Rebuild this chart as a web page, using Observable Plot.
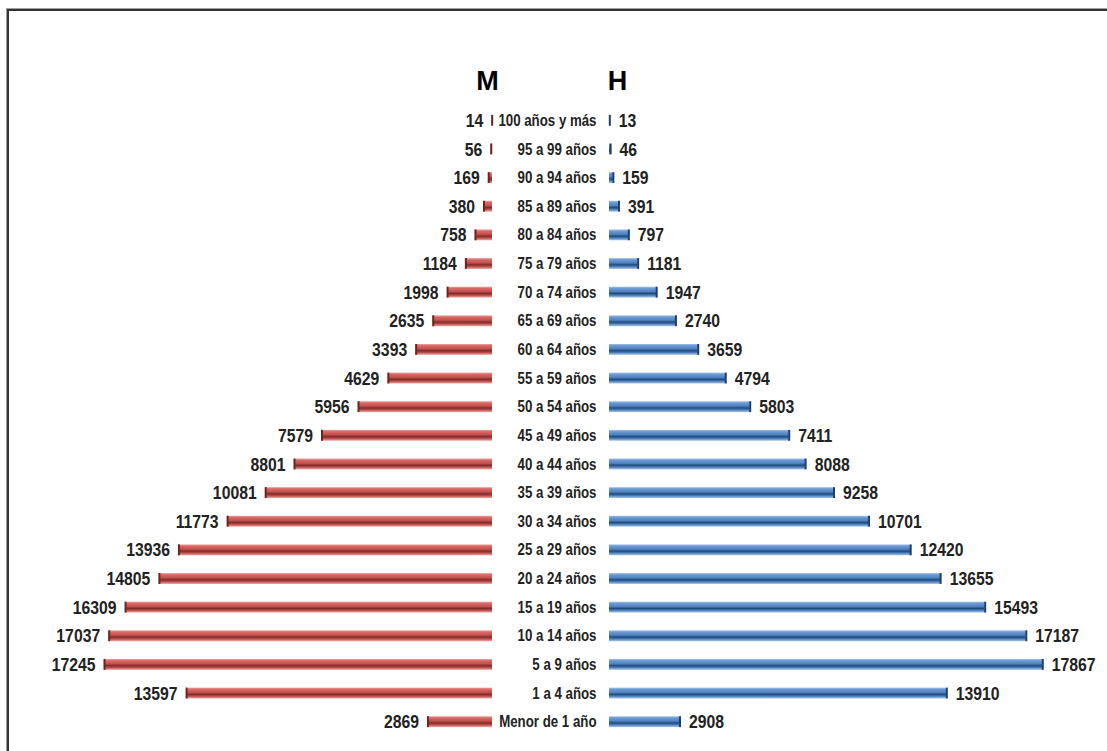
<!DOCTYPE html>
<html>
<head>
<meta charset="utf-8">
<script src="https://cdn.jsdelivr.net/npm/d3@7"></script>
<script src="https://cdn.jsdelivr.net/npm/@observablehq/plot@0.6"></script>
<style>
  html, body { margin: 0; padding: 0; background: #fff; }
  #wrap { position: relative; width: 1107px; height: 751px; overflow: hidden; background: #fff; }
  #frame { position: absolute; left: 7px; top: 9px; width: 1200px; height: 900px;
           border-top: 2px solid #333; border-left: 2px solid #333;
           box-shadow: -1px -1px 0 #a0a0a0; }
  .layer { position: absolute; left: 0; top: 0; }
  .layer svg { overflow: visible; }
</style>
</head>
<body>
<div id="wrap"><div id="frame"></div></div>
<script>
const ages = ["100 años y más","95 a 99 años","90 a 94 años","85 a 89 años","80 a 84 años","75 a 79 años",
  "70 a 74 años","65 a 69 años","60 a 64 años","55 a 59 años","50 a 54 años","45 a 49 años",
  "40 a 44 años","35 a 39 años","30 a 34 años","25 a 29 años","20 a 24 años","15 a 19 años",
  "10 a 14 años","5 a 9 años","1 a 4 años","Menor de 1 año"];
const mujeres = [14,56,169,380,758,1184,1998,2635,3393,4629,5956,7579,8801,10081,11773,13936,14805,16309,17037,17245,13597,2869];
const hombres = [13,46,159,391,797,1181,1947,2740,3659,4794,5803,7411,8088,9258,10701,12420,13655,15493,17187,17867,13910,2908];
const seriesLabels = ["M","H"];

const dataM = ages.map((a,i)=>({age:a, v:mujeres[i]}));
const dataH = ages.map((a,i)=>({age:a, v:hombres[i]}));

const W = 1107, H = 751;
const sans = "'Liberation Sans',Arial,sans-serif";

function gradient(id, light, mid, dark) {
  return () => {
    const defs = d3.create("svg:defs");
    const g = defs.append("linearGradient").attr("id", id)
      .attr("x1", 0).attr("y1", 0).attr("x2", 0).attr("y2", 1);
    [[0, light, 0.6],[0.15, light, 1],[0.45, mid, 1],[0.62, dark, 1],[0.8, mid, 1],[1, light, 0.6]]
      .forEach(([o,c,op]) => g.append("stop").attr("offset", o).attr("stop-color", c).attr("stop-opacity", op));
    return defs.node();
  };
}

const yScale = {domain: ages, paddingInner: 0.62, paddingOuter: 0.31, round: false, axis: null};

const left = Plot.plot({
  width: W, height: H,
  marginLeft: 42, marginRight: W - 492, marginTop: 106, marginBottom: 15,
  x: {domain: [0, 20000], reverse: true, axis: null},
  y: yScale,
  style: {background: "transparent"},
  marks: [
    gradient("gradM", "#dc6a66", "#c0504d", "#7e2c2a"),
    Plot.barX(dataM, {x: "v", y: "age", fill: "url(#gradM)"}),
    Plot.tickX(dataM, {x: "v", y: "age", stroke: "#6b2422", strokeWidth: 2}),
    Plot.text(dataM, {x: "v", y: "age", text: d => String(d.v), textAnchor: "end", dx: -9,
      fontFamily: sans, fontWeight: "bold", fontSize: 19, fill: "#222", className: "narrow"}),
    Plot.text([seriesLabels[0]], {x: 0, frameAnchor: "top", lineAnchor: "middle", dy: -25, dx: -5, text: d => d,
      fontFamily: sans, fontWeight: "bold", fontSize: 27, fill: "#000"})
  ]
});

const right = Plot.plot({
  width: W, height: H,
  marginLeft: 609, marginRight: W - 1094, marginTop: 106, marginBottom: 15,
  x: {domain: [0, 20000], axis: null},
  y: yScale,
  style: {background: "transparent"},
  marks: [
    gradient("gradH", "#6d9bd6", "#4f81bd", "#1f4a7c"),
    Plot.barX(dataH, {x: "v", y: "age", fill: "url(#gradH)"}),
    Plot.tickX(dataH, {x: "v", y: "age", stroke: "#1c3f6b", strokeWidth: 2}),
    Plot.text(dataH, {x: "v", y: "age", text: d => String(d.v), textAnchor: "start", dx: 9,
      fontFamily: sans, fontWeight: "bold", fontSize: 19, fill: "#222", className: "narrow"}),
    Plot.text(ages, {x: 0, y: d => d, text: d => d, textAnchor: "end", dx: -13,
      fontFamily: sans, fontWeight: "bold", fontSize: 16, fill: "#222", className: "narrow"}),
    Plot.text([seriesLabels[1]], {x: 0, frameAnchor: "top", lineAnchor: "middle", dy: -25, dx: 8, text: d => d,
      fontFamily: sans, fontWeight: "bold", fontSize: 27, fill: "#000"})
  ]
});

// emulate a narrow (condensed) typeface by compressing glyphs horizontally around their anchor
[left, right].forEach(svg => {
  svg.querySelectorAll("g.narrow text").forEach(t => {
    const tr = t.getAttribute("transform") || "";
    t.setAttribute("transform", tr + " scale(0.83,1)");
  });
});

const wrap = document.getElementById("wrap");
[left, right].forEach(p => {
  const d = document.createElement("div");
  d.className = "layer";
  d.appendChild(p);
  wrap.appendChild(d);
});
</script>
</body>
</html>
